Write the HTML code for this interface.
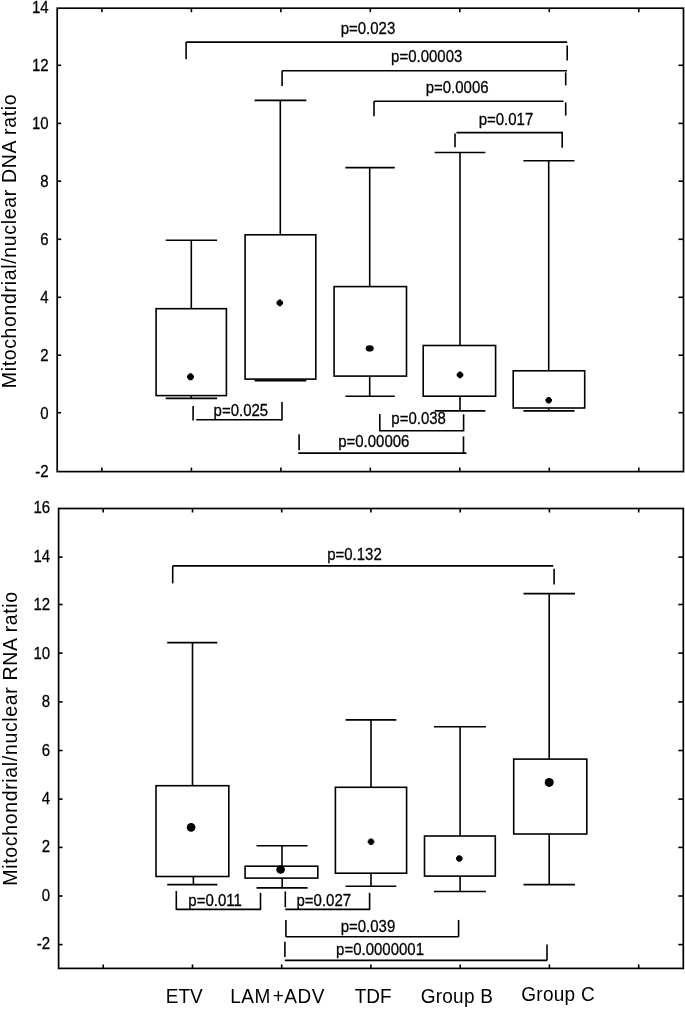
<!DOCTYPE html>
<html><head><meta charset="utf-8"><title>Mitochondrial/nuclear DNA and RNA ratio</title>
<style>
html,body{margin:0;padding:0;background:#fff;}
body{width:685px;height:1009px;overflow:hidden;}
svg{display:block;filter:grayscale(1);font-family:"Liberation Sans",Arial,sans-serif;fill:#000;stroke:#000;}
svg text{stroke:#000;stroke-width:0.25px;fill:#000;}
svg text.big{stroke:none;}
</style></head><body>
<svg width="685" height="1009" viewBox="0 0 685 1009">
<rect x="0" y="0" width="685" height="1009" fill="#fff" stroke="none"/>
<rect x="57.2" y="8.2" width="626.3" height="463.40000000000003" fill="none" stroke-width="1.7"/>
<text transform="translate(48.7,13.2) scale(1,1.1)" font-size="15" text-anchor="end" >14</text>
<line x1="57.2" y1="65.3" x2="61.2" y2="65.3" stroke-width="1.6"/>
<line x1="678.5" y1="65.3" x2="683.5" y2="65.3" stroke-width="1.6"/>
<text transform="translate(48.7,71.1) scale(1,1.1)" font-size="15" text-anchor="end" >12</text>
<line x1="57.2" y1="123.4" x2="61.2" y2="123.4" stroke-width="1.6"/>
<line x1="678.5" y1="123.4" x2="683.5" y2="123.4" stroke-width="1.6"/>
<text transform="translate(48.7,129.1) scale(1,1.1)" font-size="15" text-anchor="end" >10</text>
<line x1="57.2" y1="181.2" x2="61.2" y2="181.2" stroke-width="1.6"/>
<line x1="678.5" y1="181.2" x2="683.5" y2="181.2" stroke-width="1.6"/>
<text transform="translate(48.7,187.0) scale(1,1.1)" font-size="15" text-anchor="end" >8</text>
<line x1="57.2" y1="239.3" x2="61.2" y2="239.3" stroke-width="1.6"/>
<line x1="678.5" y1="239.3" x2="683.5" y2="239.3" stroke-width="1.6"/>
<text transform="translate(48.7,245.0) scale(1,1.1)" font-size="15" text-anchor="end" >6</text>
<line x1="57.2" y1="297.3" x2="61.2" y2="297.3" stroke-width="1.6"/>
<line x1="678.5" y1="297.3" x2="683.5" y2="297.3" stroke-width="1.6"/>
<text transform="translate(48.7,302.9) scale(1,1.1)" font-size="15" text-anchor="end" >4</text>
<line x1="57.2" y1="355.2" x2="61.2" y2="355.2" stroke-width="1.6"/>
<line x1="678.5" y1="355.2" x2="683.5" y2="355.2" stroke-width="1.6"/>
<text transform="translate(48.7,360.8) scale(1,1.1)" font-size="15" text-anchor="end" >2</text>
<line x1="57.2" y1="412.7" x2="61.2" y2="412.7" stroke-width="1.6"/>
<line x1="678.5" y1="412.7" x2="683.5" y2="412.7" stroke-width="1.6"/>
<text transform="translate(48.7,418.8) scale(1,1.1)" font-size="15" text-anchor="end" >0</text>
<text transform="translate(48.7,476.7) scale(1,1.1)" font-size="15" text-anchor="end" >-2</text>
<line x1="101.9" y1="8.2" x2="101.9" y2="12.2" stroke-width="1.6"/>
<line x1="101.9" y1="467.6" x2="101.9" y2="471.6" stroke-width="1.6"/>
<line x1="191.4" y1="8.2" x2="191.4" y2="12.2" stroke-width="1.6"/>
<line x1="191.4" y1="467.6" x2="191.4" y2="471.6" stroke-width="1.6"/>
<line x1="280.9" y1="8.2" x2="280.9" y2="12.2" stroke-width="1.6"/>
<line x1="280.9" y1="467.6" x2="280.9" y2="471.6" stroke-width="1.6"/>
<line x1="370.3" y1="8.2" x2="370.3" y2="12.2" stroke-width="1.6"/>
<line x1="370.3" y1="467.6" x2="370.3" y2="471.6" stroke-width="1.6"/>
<line x1="459.8" y1="8.2" x2="459.8" y2="12.2" stroke-width="1.6"/>
<line x1="459.8" y1="467.6" x2="459.8" y2="471.6" stroke-width="1.6"/>
<line x1="549.3" y1="8.2" x2="549.3" y2="12.2" stroke-width="1.6"/>
<line x1="549.3" y1="467.6" x2="549.3" y2="471.6" stroke-width="1.6"/>
<line x1="638.8" y1="8.2" x2="638.8" y2="12.2" stroke-width="1.6"/>
<line x1="638.8" y1="467.6" x2="638.8" y2="471.6" stroke-width="1.6"/>
<line x1="191.3" y1="240.2" x2="191.3" y2="308.7" stroke-width="1.6"/>
<line x1="191.3" y1="395.6" x2="191.3" y2="398.4" stroke-width="1.6"/>
<line x1="165.7" y1="240.2" x2="217.1" y2="240.2" stroke-width="1.6"/>
<line x1="165.7" y1="398.4" x2="217.1" y2="398.4" stroke-width="1.6"/>
<rect x="156.1" y="308.7" width="70.3" height="86.9" fill="#fff" stroke-width="1.6"/>
<path transform="translate(190.5,376.8) scale(1.000)" d="M-1.4,-3.5h2.8v0.9h1.2v1.2h0.9v2.8h-0.9v1.2h-1.2v0.9h-2.8v-0.9h-1.2v-1.2h-0.9v-2.8h0.9v-1.2h1.2z" fill="#000" stroke="none"/>
<line x1="280.3" y1="100.4" x2="280.3" y2="234.8" stroke-width="1.6"/>
<line x1="280.3" y1="379.1" x2="280.3" y2="380.6" stroke-width="1.6"/>
<line x1="254.6" y1="100.4" x2="306.3" y2="100.4" stroke-width="1.6"/>
<line x1="254.6" y1="380.6" x2="306.3" y2="380.6" stroke-width="1.6"/>
<rect x="245.1" y="234.8" width="70.7" height="144.3" fill="#fff" stroke-width="1.6"/>
<path transform="translate(279.8,302.9) scale(0.941)" d="M-1.4,-3.5h2.8v0.9h1.2v1.2h0.9v2.8h-0.9v1.2h-1.2v0.9h-2.8v-0.9h-1.2v-1.2h-0.9v-2.8h0.9v-1.2h1.2z" fill="#000" stroke="none"/>
<line x1="369.7" y1="167.6" x2="369.7" y2="286.6" stroke-width="1.6"/>
<line x1="369.7" y1="376.1" x2="369.7" y2="396.2" stroke-width="1.6"/>
<line x1="345.4" y1="167.6" x2="394.8" y2="167.6" stroke-width="1.6"/>
<line x1="345.4" y1="396.2" x2="394.8" y2="396.2" stroke-width="1.6"/>
<rect x="334.1" y="286.6" width="72.4" height="89.5" fill="#fff" stroke-width="1.6"/>
<ellipse cx="369.7" cy="348.4" rx="4" ry="3.1" fill="#000" stroke="none"/>
<line x1="460.0" y1="152.5" x2="460.0" y2="345.5" stroke-width="1.6"/>
<line x1="460.0" y1="396.2" x2="460.0" y2="410.9" stroke-width="1.6"/>
<line x1="434.7" y1="152.5" x2="485.4" y2="152.5" stroke-width="1.6"/>
<line x1="434.7" y1="410.9" x2="485.4" y2="410.9" stroke-width="1.6"/>
<rect x="423.2" y="345.5" width="72.4" height="50.7" fill="#fff" stroke-width="1.6"/>
<path transform="translate(460.0,374.9) scale(0.941)" d="M-1.4,-3.5h2.8v0.9h1.2v1.2h0.9v2.8h-0.9v1.2h-1.2v0.9h-2.8v-0.9h-1.2v-1.2h-0.9v-2.8h0.9v-1.2h1.2z" fill="#000" stroke="none"/>
<line x1="548.7" y1="160.7" x2="548.7" y2="370.8" stroke-width="1.6"/>
<line x1="548.7" y1="408.0" x2="548.7" y2="410.9" stroke-width="1.6"/>
<line x1="523.4" y1="160.7" x2="574.5" y2="160.7" stroke-width="1.6"/>
<line x1="523.4" y1="410.9" x2="574.5" y2="410.9" stroke-width="1.6"/>
<rect x="513.2" y="370.8" width="71.5" height="37.2" fill="#fff" stroke-width="1.6"/>
<path transform="translate(548.7,400.2) scale(0.941)" d="M-1.4,-3.5h2.8v0.9h1.2v1.2h0.9v2.8h-0.9v1.2h-1.2v0.9h-2.8v-0.9h-1.2v-1.2h-0.9v-2.8h0.9v-1.2h1.2z" fill="#000" stroke="none"/>
<line x1="186.1" y1="42.1" x2="567.2" y2="42.1" stroke-width="1.6"/>
<line x1="186.1" y1="42.1" x2="186.1" y2="59.2" stroke-width="1.6"/>
<line x1="567.2" y1="45.5" x2="567.2" y2="60.5" stroke-width="1.6"/>
<line x1="282.1" y1="70.8" x2="567.0" y2="70.8" stroke-width="1.6"/>
<line x1="282.1" y1="70.8" x2="282.1" y2="86.0" stroke-width="1.6"/>
<line x1="565.7" y1="72.3" x2="565.7" y2="85.4" stroke-width="1.6"/>
<line x1="374.0" y1="101.2" x2="563.5" y2="101.2" stroke-width="1.6"/>
<line x1="374.0" y1="101.2" x2="374.0" y2="116.3" stroke-width="1.6"/>
<line x1="565.7" y1="102.5" x2="565.7" y2="115.6" stroke-width="1.6"/>
<line x1="456.4" y1="132.6" x2="562.2" y2="132.6" stroke-width="1.6"/>
<line x1="455.0" y1="133.6" x2="455.0" y2="147.2" stroke-width="1.6"/>
<line x1="562.2" y1="131.8" x2="562.2" y2="147.7" stroke-width="1.6"/>
<text transform="translate(340.7,33.9) scale(1,1.1)" font-size="15" text-anchor="start" >p=0.023</text>
<text transform="translate(391.1,62.2) scale(1,1.1)" font-size="15" text-anchor="start" >p=0.00003</text>
<text transform="translate(425.7,92.9) scale(1,1.1)" font-size="15" text-anchor="start" >p=0.0006</text>
<text transform="translate(478.7,124.9) scale(1,1.1)" font-size="15" text-anchor="start" >p=0.017</text>
<line x1="196.2" y1="419.8" x2="282.0" y2="419.8" stroke-width="1.6"/>
<line x1="193.1" y1="406.1" x2="193.1" y2="420.4" stroke-width="1.6"/>
<line x1="282.0" y1="402.0" x2="282.0" y2="420.4" stroke-width="1.6"/>
<text transform="translate(213.6,416.1) scale(1,1.1)" font-size="15" text-anchor="start" >p=0.025</text>
<line x1="379.8" y1="430.7" x2="463.6" y2="430.7" stroke-width="1.6"/>
<line x1="379.8" y1="414.0" x2="379.8" y2="431.3" stroke-width="1.6"/>
<line x1="463.6" y1="414.3" x2="463.6" y2="431.3" stroke-width="1.6"/>
<text transform="translate(391.3,423.6) scale(1,1.1)" font-size="15" text-anchor="start" >p=0.038</text>
<line x1="298.3" y1="453.1" x2="466.4" y2="453.1" stroke-width="1.6"/>
<line x1="299.1" y1="434.3" x2="299.1" y2="450.2" stroke-width="1.6"/>
<line x1="463.5" y1="436.4" x2="463.5" y2="453.1" stroke-width="1.6"/>
<text transform="translate(338.2,447.1) scale(1,1.1)" font-size="15" text-anchor="start" >p=0.00006</text>
<rect x="58.6" y="508.5" width="624.6999999999999" height="459.9" fill="none" stroke-width="1.7"/>
<text transform="translate(50.1,513.4) scale(1,1.1)" font-size="15" text-anchor="end" >16</text>
<line x1="58.6" y1="557.1" x2="62.6" y2="557.1" stroke-width="1.6"/>
<line x1="678.3" y1="557.1" x2="683.3" y2="557.1" stroke-width="1.6"/>
<text transform="translate(50.1,561.8) scale(1,1.1)" font-size="15" text-anchor="end" >14</text>
<line x1="58.6" y1="604.5" x2="62.6" y2="604.5" stroke-width="1.6"/>
<line x1="678.3" y1="604.5" x2="683.3" y2="604.5" stroke-width="1.6"/>
<text transform="translate(50.1,610.2) scale(1,1.1)" font-size="15" text-anchor="end" >12</text>
<line x1="58.6" y1="653.1" x2="62.6" y2="653.1" stroke-width="1.6"/>
<line x1="678.3" y1="653.1" x2="683.3" y2="653.1" stroke-width="1.6"/>
<text transform="translate(50.1,658.6) scale(1,1.1)" font-size="15" text-anchor="end" >10</text>
<line x1="58.6" y1="701.9" x2="62.6" y2="701.9" stroke-width="1.6"/>
<line x1="678.3" y1="701.9" x2="683.3" y2="701.9" stroke-width="1.6"/>
<text transform="translate(50.1,707.0) scale(1,1.1)" font-size="15" text-anchor="end" >8</text>
<line x1="58.6" y1="750.5" x2="62.6" y2="750.5" stroke-width="1.6"/>
<line x1="678.3" y1="750.5" x2="683.3" y2="750.5" stroke-width="1.6"/>
<text transform="translate(50.1,755.5) scale(1,1.1)" font-size="15" text-anchor="end" >6</text>
<line x1="58.6" y1="799.1" x2="62.6" y2="799.1" stroke-width="1.6"/>
<line x1="678.3" y1="799.1" x2="683.3" y2="799.1" stroke-width="1.6"/>
<text transform="translate(50.1,803.9) scale(1,1.1)" font-size="15" text-anchor="end" >4</text>
<line x1="58.6" y1="847.4" x2="62.6" y2="847.4" stroke-width="1.6"/>
<line x1="678.3" y1="847.4" x2="683.3" y2="847.4" stroke-width="1.6"/>
<text transform="translate(50.1,852.3) scale(1,1.1)" font-size="15" text-anchor="end" >2</text>
<line x1="58.6" y1="896.0" x2="62.6" y2="896.0" stroke-width="1.6"/>
<line x1="678.3" y1="896.0" x2="683.3" y2="896.0" stroke-width="1.6"/>
<text transform="translate(50.1,900.7) scale(1,1.1)" font-size="15" text-anchor="end" >0</text>
<line x1="58.6" y1="944.6" x2="62.6" y2="944.6" stroke-width="1.6"/>
<line x1="678.3" y1="944.6" x2="683.3" y2="944.6" stroke-width="1.6"/>
<text transform="translate(50.1,949.1) scale(1,1.1)" font-size="15" text-anchor="end" >-2</text>
<line x1="103.2" y1="508.5" x2="103.2" y2="512.5" stroke-width="1.6"/>
<line x1="103.2" y1="964.4" x2="103.2" y2="968.4" stroke-width="1.6"/>
<line x1="192.5" y1="508.5" x2="192.5" y2="512.5" stroke-width="1.6"/>
<line x1="192.5" y1="964.4" x2="192.5" y2="968.4" stroke-width="1.6"/>
<line x1="281.7" y1="508.5" x2="281.7" y2="512.5" stroke-width="1.6"/>
<line x1="281.7" y1="964.4" x2="281.7" y2="968.4" stroke-width="1.6"/>
<line x1="370.9" y1="508.5" x2="370.9" y2="512.5" stroke-width="1.6"/>
<line x1="370.9" y1="964.4" x2="370.9" y2="968.4" stroke-width="1.6"/>
<line x1="460.2" y1="508.5" x2="460.2" y2="512.5" stroke-width="1.6"/>
<line x1="460.2" y1="964.4" x2="460.2" y2="968.4" stroke-width="1.6"/>
<line x1="549.4" y1="508.5" x2="549.4" y2="512.5" stroke-width="1.6"/>
<line x1="549.4" y1="964.4" x2="549.4" y2="968.4" stroke-width="1.6"/>
<line x1="638.7" y1="508.5" x2="638.7" y2="512.5" stroke-width="1.6"/>
<line x1="638.7" y1="964.4" x2="638.7" y2="968.4" stroke-width="1.6"/>
<line x1="192.5" y1="642.6" x2="192.5" y2="785.7" stroke-width="1.6"/>
<line x1="193.4" y1="876.5" x2="193.4" y2="884.6" stroke-width="1.6"/>
<line x1="167.2" y1="642.6" x2="217.3" y2="642.6" stroke-width="1.6"/>
<line x1="167.2" y1="884.6" x2="217.3" y2="884.6" stroke-width="1.6"/>
<rect x="156.0" y="785.7" width="72.8" height="90.8" fill="#fff" stroke-width="1.6"/>
<circle cx="191.1" cy="827.4" r="4.3" fill="#000" stroke="none"/>
<line x1="282.0" y1="845.8" x2="282.0" y2="866.2" stroke-width="1.6"/>
<line x1="282.2" y1="878.1" x2="282.2" y2="887.9" stroke-width="1.6"/>
<line x1="256.5" y1="845.8" x2="307.6" y2="845.8" stroke-width="1.6"/>
<line x1="256.5" y1="887.9" x2="307.6" y2="887.9" stroke-width="1.6"/>
<rect x="245.1" y="866.2" width="72.7" height="11.9" fill="#fff" stroke-width="1.6"/>
<circle cx="280.6" cy="869.5" r="4.3" fill="#000" stroke="none"/>
<line x1="371.0" y1="719.9" x2="371.0" y2="787.3" stroke-width="1.6"/>
<line x1="371.0" y1="873.2" x2="371.0" y2="886.3" stroke-width="1.6"/>
<line x1="345.6" y1="719.9" x2="396.3" y2="719.9" stroke-width="1.6"/>
<line x1="345.6" y1="886.3" x2="396.3" y2="886.3" stroke-width="1.6"/>
<rect x="335.4" y="787.3" width="71.2" height="85.9" fill="#fff" stroke-width="1.6"/>
<path transform="translate(371.0,841.7) scale(0.941)" d="M-1.4,-3.5h2.8v0.9h1.2v1.2h0.9v2.8h-0.9v1.2h-1.2v0.9h-2.8v-0.9h-1.2v-1.2h-0.9v-2.8h0.9v-1.2h1.2z" fill="#000" stroke="none"/>
<line x1="460.1" y1="726.8" x2="460.1" y2="836.0" stroke-width="1.6"/>
<line x1="460.1" y1="876.1" x2="460.1" y2="891.5" stroke-width="1.6"/>
<line x1="433.9" y1="726.8" x2="485.9" y2="726.8" stroke-width="1.6"/>
<line x1="433.9" y1="891.5" x2="485.9" y2="891.5" stroke-width="1.6"/>
<rect x="424.5" y="836.0" width="70.8" height="40.1" fill="#fff" stroke-width="1.6"/>
<path transform="translate(459.3,858.5) scale(0.941)" d="M-1.4,-3.5h2.8v0.9h1.2v1.2h0.9v2.8h-0.9v1.2h-1.2v0.9h-2.8v-0.9h-1.2v-1.2h-0.9v-2.8h0.9v-1.2h1.2z" fill="#000" stroke="none"/>
<line x1="549.2" y1="593.6" x2="549.2" y2="759.1" stroke-width="1.6"/>
<line x1="549.2" y1="834.0" x2="549.2" y2="884.6" stroke-width="1.6"/>
<line x1="523.5" y1="593.6" x2="575.0" y2="593.6" stroke-width="1.6"/>
<line x1="523.5" y1="884.6" x2="575.0" y2="884.6" stroke-width="1.6"/>
<rect x="513.7" y="759.1" width="73.1" height="74.9" fill="#fff" stroke-width="1.6"/>
<circle cx="549.2" cy="782.4" r="4.5" fill="#000" stroke="none"/>
<line x1="172.7" y1="565.9" x2="553.3" y2="565.9" stroke-width="1.6"/>
<line x1="172.7" y1="565.9" x2="172.7" y2="583.4" stroke-width="1.6"/>
<line x1="554.1" y1="568.7" x2="554.1" y2="584.4" stroke-width="1.6"/>
<text transform="translate(327.2,559.9) scale(1,1.1)" font-size="15" text-anchor="start" >p=0.132</text>
<line x1="176.3" y1="909.4" x2="260.5" y2="909.4" stroke-width="1.6"/>
<line x1="176.3" y1="891.0" x2="176.3" y2="910.0" stroke-width="1.6"/>
<line x1="260.5" y1="892.8" x2="260.5" y2="910.0" stroke-width="1.6"/>
<text transform="translate(188.3,906.1) scale(1,1.1)" font-size="15" text-anchor="start" >p=0.011</text>
<line x1="285.3" y1="909.4" x2="369.6" y2="909.4" stroke-width="1.6"/>
<line x1="285.3" y1="891.5" x2="285.3" y2="907.3" stroke-width="1.6"/>
<line x1="369.6" y1="892.8" x2="369.6" y2="910.0" stroke-width="1.6"/>
<text transform="translate(296.5,906.1) scale(1,1.1)" font-size="15" text-anchor="start" >p=0.027</text>
<line x1="285.9" y1="919.9" x2="285.9" y2="936.8" stroke-width="1.6"/>
<line x1="285.9" y1="936.8" x2="458.6" y2="936.8" stroke-width="1.6"/>
<line x1="458.6" y1="919.9" x2="458.6" y2="936.8" stroke-width="1.6"/>
<text transform="translate(340.7,932.4) scale(1,1.1)" font-size="15" text-anchor="start" >p=0.039</text>
<line x1="284.9" y1="941.8" x2="284.9" y2="957.0" stroke-width="1.6"/>
<line x1="284.9" y1="960.4" x2="547.0" y2="960.4" stroke-width="1.6"/>
<line x1="547.0" y1="944.6" x2="547.0" y2="960.4" stroke-width="1.6"/>
<text transform="translate(336.1,955.2) scale(1,1.1)" font-size="15" text-anchor="start" >p=0.0000001</text>
<text transform="translate(184.2,1003.0) scale(1,1.08)" font-size="19" text-anchor="middle" class="big">ETV</text>
<text transform="translate(277.6,1003.0) scale(1,1.08)" font-size="19" text-anchor="middle" class="big" letter-spacing="0.5">LAM<tspan dx="1.9">+ADV</tspan></text>
<text transform="translate(373.1,1003.0) scale(1,1.08)" font-size="19" text-anchor="middle" class="big">TDF</text>
<text transform="translate(456.9,1003.0) scale(1,1.08)" font-size="19" text-anchor="middle" class="big" letter-spacing="0.25">Group B</text>
<text transform="translate(558.1,1001.2) scale(1,1.08)" font-size="19" text-anchor="middle" class="big" letter-spacing="0.25">Group C</text>
<text transform="translate(15.8,241.0) rotate(-90) scale(1,1.03)" font-size="19.5" class="big" letter-spacing="0.66" text-anchor="middle">Mitochondrial/nuclear DNA ratio</text>
<text transform="translate(17.3,738.4) rotate(-90) scale(1,1.03)" font-size="19.5" class="big" letter-spacing="0.66" text-anchor="middle">Mitochondrial/nuclear RNA ratio</text>
</svg>
</body></html>
